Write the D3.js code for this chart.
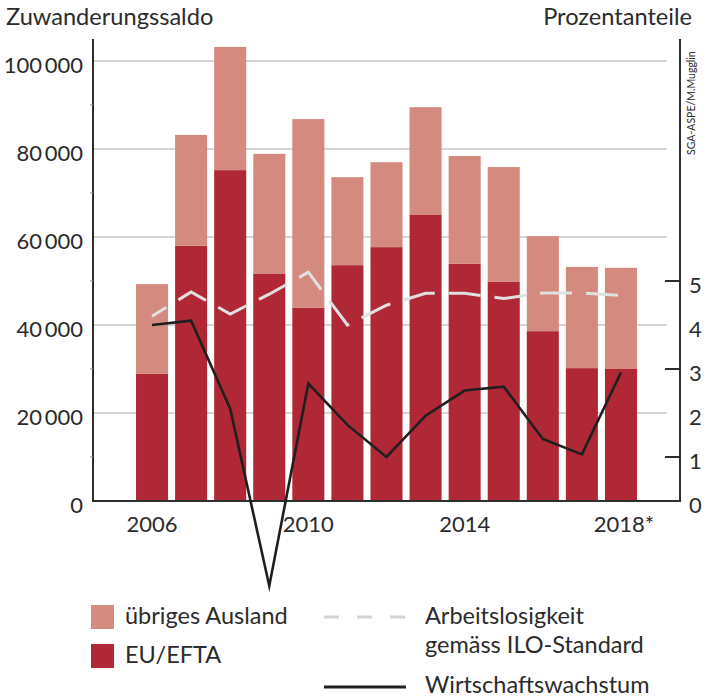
<!DOCTYPE html>
<html><head><meta charset="utf-8">
<script src="https://cdn.jsdelivr.net/npm/d3@7"></script>
<style>
body{margin:0;background:#fff;}
svg text{font-family:Lato,"Open Sans",sans-serif;fill:#2b2b2b;}
</style></head>
<body><svg id="c" width="706" height="697"></svg>
<script>
const years = [2006,2007,2008,2009,2010,2011,2012,2013,2014,2015,2016,2017,2018];
const euEfta = [28900,58000,75200,51600,43900,53600,57700,65000,53900,49800,38600,30200,30000];
const uebrigesAusland = [20400,25200,28000,27300,42900,20000,19300,24500,24500,26100,21600,23000,23000];
const arbeitslosigkeit = [4.2,4.75,4.25,4.7,5.2,4.0,4.45,4.72,4.72,4.6,4.73,4.73,4.67];
const wachstum = [4.0,4.1,2.1,-1.93,2.67,1.73,1.0,1.94,2.51,2.6,1.41,1.06,2.92];
const leftTicks = [0,20000,40000,60000,80000,100000];
const leftTickLabels = ["0","20\u2009000","40\u2009000","60\u2009000","80\u2009000","100\u2009000"];
const rightTicks = [0,1,2,3,4,5];
const xLabelYears = [2006,2010,2014,2018];
const xLabelText = ["2006","2010","2014","2018*"];

const C_EU="#b02836", C_OTHER="#d48a7e", C_UNEMP="#e0e0e0", C_GROW="#1f1f1f", C_AX="#2e2e2e", C_GRID="#c9c9c9";

const svg=d3.select("#c");
const x=d3.scaleBand().domain(years).range([132.5,640.5]).paddingInner(0.18).paddingOuter(0.09);
const y=d3.scaleLinear().domain([0,100000]).range([501,61]);
const yR=d3.scaleLinear().domain([0,10]).range([501,61]);
const cx=d=>x(d)+x.bandwidth()/2;

// gridlines
svg.append("g").selectAll("line").data(leftTicks.slice(1)).join("line")
 .attr("x1",93).attr("x2",667).attr("y1",d=>y(d)).attr("y2",d=>y(d))
 .attr("stroke",C_GRID).attr("stroke-width",1.6);

// bars
const stacked = years.map((yr,i)=>({yr,eu:euEfta[i],other:uebrigesAusland[i]}));
svg.append("g").selectAll("rect").data(stacked).join("rect")
 .attr("x",d=>x(d.yr)).attr("width",x.bandwidth())
 .attr("y",d=>y(d.eu)).attr("height",d=>y(0)-y(d.eu)).attr("fill",C_EU);
svg.append("g").selectAll("rect").data(stacked).join("rect")
 .attr("x",d=>x(d.yr)).attr("width",x.bandwidth())
 .attr("y",d=>y(d.eu+d.other)).attr("height",d=>y(d.eu)-y(d.eu+d.other)).attr("fill",C_OTHER);

// axes lines
svg.append("line").attr("x1",93).attr("x2",93).attr("y1",39).attr("y2",501.5).attr("stroke",C_AX).attr("stroke-width",2);
svg.append("line").attr("x1",680).attr("x2",680).attr("y1",39).attr("y2",501.5).attr("stroke",C_AX).attr("stroke-width",2);
svg.append("line").attr("x1",92).attr("x2",681).attr("y1",501).attr("y2",501).attr("stroke",C_AX).attr("stroke-width",2);

// left minor ticks
svg.append("g").selectAll("line").data([1,3,5,7,9]).join("line")
 .attr("x1",90).attr("x2",93).attr("y1",d=>yR(d)).attr("y2",d=>yR(d)).attr("stroke","#888").attr("stroke-width",1);

// right ticks (odd)
svg.append("g").selectAll("line").data([1,3,5]).join("line")
 .attr("x1",665).attr("x2",680).attr("y1",d=>yR(d)).attr("y2",d=>yR(d)).attr("stroke",C_AX).attr("stroke-width",2);

// left tick labels
svg.append("g").selectAll("text").data(leftTicks).join("text")
 .attr("x",83).attr("y",d=>y(d)+12).attr("text-anchor","end").attr("font-size",22)
 .text((d,i)=>leftTickLabels[i]);
// right tick labels
svg.append("g").selectAll("text").data(rightTicks).join("text")
 .attr("x",689).attr("y",d=>yR(d)+12).attr("text-anchor","start").attr("font-size",22)
 .text(d=>d);
// x labels
svg.append("g").selectAll("text").data(xLabelYears).join("text")
 .attr("x",(d,i)=>cx(d)+(i===3?3:0)).attr("y",532).attr("text-anchor","middle").attr("font-size",22)
 .text((d,i)=>xLabelText[i]);

// titles
svg.append("text").attr("x",6).attr("y",25).attr("font-size",23.6).text("Zuwanderungssaldo");
svg.append("text").attr("x",692).attr("y",25).attr("font-size",23.6).attr("text-anchor","end").text("Prozentanteile");
svg.append("text").attr("transform","translate(695,155) rotate(-90)").attr("font-size",10.5).text("SGA-ASPE/M.Mugglin");

// lines
const line=d3.line().x(d=>cx(d[0])).y(d=>yR(d[1]));
svg.append("path").datum(years.map((yr,i)=>[yr,arbeitslosigkeit[i]]))
 .attr("d",line).attr("fill","none").attr("stroke",C_UNEMP).attr("stroke-width",3)
 .attr("stroke-dasharray","32,14").attr("stroke-dashoffset",15);
svg.append("path").datum(years.map((yr,i)=>[yr,wachstum[i]]))
 .attr("d",line).attr("fill","none").attr("stroke",C_GROW).attr("stroke-width",2.6)
 .attr("stroke-linejoin","miter").attr("stroke-miterlimit",20);

// legend
const lg=svg.append("g");
lg.append("rect").attr("x",91).attr("y",605).attr("width",23).attr("height",24).attr("fill",C_OTHER);
lg.append("rect").attr("x",91).attr("y",644).attr("width",23).attr("height",24).attr("fill",C_EU);
lg.append("text").attr("x",125).attr("y",624).attr("font-size",23.5).text("übriges Ausland");
lg.append("text").attr("x",125).attr("y",663).attr("font-size",23.5).text("EU/EFTA");
lg.append("line").attr("x1",324).attr("x2",406).attr("y1",617).attr("y2",617).attr("stroke","#d4d4d4").attr("stroke-width",3).attr("stroke-dasharray","15,18");
lg.append("line").attr("x1",324).attr("x2",406).attr("y1",687).attr("y2",687).attr("stroke",C_GROW).attr("stroke-width",3);
lg.append("text").attr("x",425).attr("y",624).attr("font-size",23.5).text("Arbeitslosigkeit");
lg.append("text").attr("x",425).attr("y",653).attr("font-size",23.5).text("gemäss ILO-Standard");
lg.append("text").attr("x",425).attr("y",693).attr("font-size",23.5).text("Wirtschaftswachstum");
</script></body></html>
